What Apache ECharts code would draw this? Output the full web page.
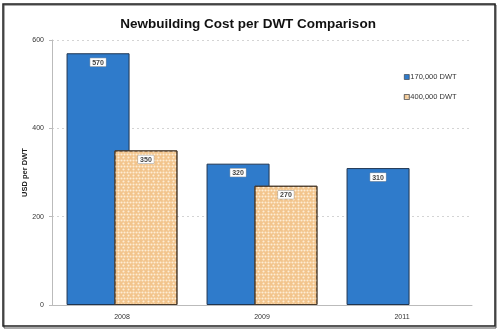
<!DOCTYPE html>
<html>
<head>
<meta charset="utf-8">
<script src="https://cdn.jsdelivr.net/npm/echarts@6/dist/echarts.min.js"></script>
<style>
  html, body { margin: 0; padding: 0; background: #fff; }
  #chart { width: 500px; height: 332px; }
</style>
</head>
<body>
<div id="chart"></div>
<script>
// Newbuilding cost per deadweight tonne, by delivery year
const years = ['2008', '2009', '2011'];
const cost170k = [570, 320, 310];
const cost400k = [350, 270, null];
const yTicks = [0, 200, 400, 600];

const chart = echarts.init(document.getElementById('chart'), null, { renderer: 'canvas' });

const labelStyle = {
  show: true,
  position: 'insideTop',
  distance: 5,
  fontSize: 7,
  fontWeight: 'bold',
  fontFamily: 'Liberation Sans, Arial, sans-serif',
  color: '#444',
  backgroundColor: '#fff',
  borderColor: '#999',
  borderWidth: 0.5,
  padding: [1, 2, 0, 2]
};

chart.setOption({
  animation: false,
  backgroundColor: '#fff',
  title: {
    text: 'Newbuilding Cost per DWT Comparison',
    left: 243,
    top: 12,
    textAlign: 'center',
    textStyle: {
      fontFamily: 'Liberation Sans, Arial, sans-serif',
      fontSize: 13.5,
      fontWeight: 'bold',
      color: '#111'
    }
  },
  legend: {
    orient: 'vertical',
    left: 399,
    top: 68,
    itemWidth: 5,
    itemHeight: 5,
    itemGap: 12,
    icon: 'rect',
    textStyle: {
      fontFamily: 'Liberation Sans, Arial, sans-serif',
      fontSize: 7.5,
      color: '#333',
      padding: [0, 0, 0, -4]
    },
    data: [
      { name: '170,000 DWT', itemStyle: { borderColor: '#333', borderWidth: 0.6 } },
      { name: '400,000 DWT', itemStyle: { borderColor: '#555', borderWidth: 0.6 } }
    ]
  },
  grid: { left: 52, right: 28, top: 40, bottom: 27 },
  xAxis: {
    type: 'category',
    data: years,
    axisLine: { lineStyle: { color: '#bbb', width: 1 } },
    axisTick: { show: false },
    axisLabel: {
      fontFamily: 'Liberation Sans, Arial, sans-serif',
      fontSize: 7,
      color: '#333',
      margin: 9
    }
  },
  yAxis: {
    type: 'value',
    min: yTicks[0],
    max: yTicks[yTicks.length - 1],
    interval: 200,
    name: 'USD per DWT',
    nameLocation: 'middle',
    nameGap: 23,
    nameMoveOverlap: false,
    nameTextStyle: {
      fontFamily: 'Liberation Sans, Arial, sans-serif',
      fontSize: 7.5,
      fontWeight: 'bold',
      color: '#222'
    },
    axisLine: { show: true, lineStyle: { color: '#bbb', width: 1 } },
    axisTick: { show: true, length: 3, inside: false, lineStyle: { color: '#bbb' } },
    axisLabel: {
      fontFamily: 'Liberation Sans, Arial, sans-serif',
      fontSize: 7,
      color: '#333',
      margin: 8
    },
    splitLine: { show: true, lineStyle: { color: '#d4d4d4', type: [2, 3], width: 1 } }
  },
  series: [
    {
      name: '170,000 DWT',
      type: 'bar',
      data: cost170k,
      barWidth: 63,
      barGap: '-24%',
      z: 2,
      itemStyle: { color: '#2f7bcb', borderColor: '#1f3550', borderWidth: 1 },
      label: labelStyle
    },
    {
      name: '400,000 DWT',
      type: 'bar',
      data: cost400k,
      barWidth: 63,
      z: 3,
      itemStyle: {
        color: '#f2c48c',
        borderColor: '#4a3a2a',
        borderWidth: 1,
        decal: {
          symbol: 'circle',
          symbolSize: 0.7,
          color: 'rgba(255,245,225,0.85)',
          dashArrayX: [[3, 0], [0, 1.5, 3, 0]],
          dashArrayY: [3, 0],
          rotation: 0
        }
      },
      label: labelStyle
    }
  ],
  graphic: [
    {
      type: 'rect',
      shape: { x: 4, y: 5, width: 492, height: 323 },
      style: { fill: null, stroke: '#555', lineWidth: 1 },
      silent: true
    },
    {
      type: 'rect',
      shape: { x: 3, y: 4, width: 492, height: 322 },
      style: { fill: null, stroke: '#222', lineWidth: 1.5 },
      silent: true
    }
  ]
});
</script>
</body>
</html>
